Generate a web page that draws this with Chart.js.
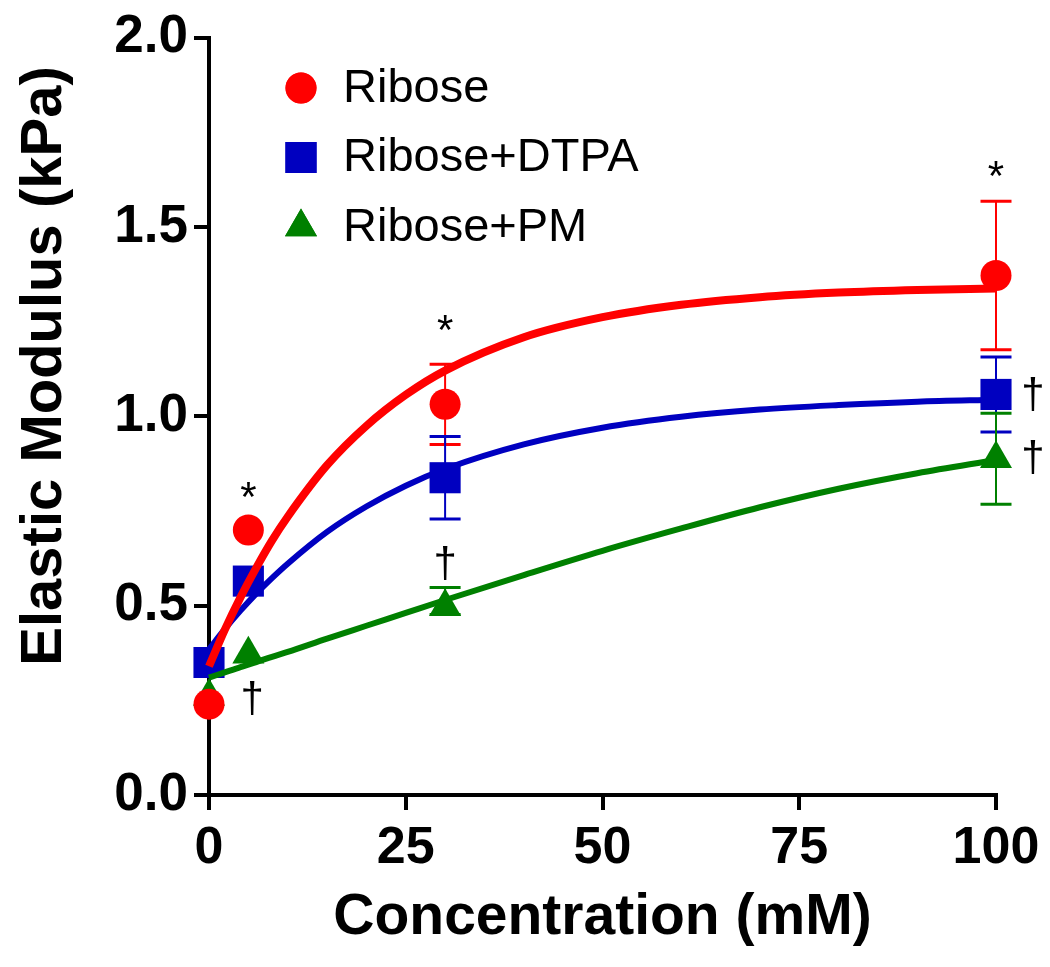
<!DOCTYPE html>
<html><head><meta charset="utf-8">
<script src="https://cdn.jsdelivr.net/npm/chart.js@4.4.1/dist/chart.umd.min.js"></script>
<style>html,body{margin:0;padding:0;background:#fff}#wrap{width:1050px;height:967px;position:relative}</style>
</head><body><div id="wrap"><canvas id="c"></canvas></div>
<script>
// ---- data ----
const concentrations = [0, 5, 30, 100];
const riboseMean = [0.24, 0.70, 1.032, 1.372];
const riboseErrUp   = [0, 0, 0.106, 0.196];
const riboseErrDown = [0, 0, 0.106, 0.196];
const dtpaMean   = [0.35, 0.565, 0.838, 1.058];
const dtpaErrUp   = [0, 0, 0.109, 0.099];
const dtpaErrDown = [0, 0, 0.109, 0.099];
const pmMean     = [0.26, 0.372, 0.497, 0.888];
const pmErrUp    = [0, 0, 0.051, 0.12];
const pmErrDown  = [0, 0, 0.02, 0.12];

const fitX      = [0, 2, 4, 6, 8, 10, 15, 20, 25, 30, 40, 50, 60, 70, 80, 90, 100];
const riboseFit = [0.34, 0.436, 0.522, 0.600, 0.672, 0.735, 0.871, 0.975, 1.057, 1.121, 1.209, 1.262, 1.295, 1.315, 1.327, 1.334, 1.338];
const dtpaFit   = [0.385, 0.438, 0.487, 0.532, 0.573, 0.611, 0.695, 0.762, 0.817, 0.861, 0.926, 0.970, 0.999, 1.018, 1.030, 1.039, 1.044];
const pmFit     = [0.31, 0.324, 0.338, 0.351, 0.365, 0.378, 0.413, 0.447, 0.481, 0.515, 0.581, 0.645, 0.704, 0.760, 0.809, 0.850, 0.885];

const xTicks = [0, 25, 50, 75, 100];
const yTicks = [0, 0.5, 1.0, 1.5, 2.0];
const seriesNames = ['Ribose', 'Ribose+DTPA', 'Ribose+PM'];

const markText = ['*', '*', '*', '\u2020', '\u2020', '\u2020', '\u2020'];
const markX    = [5, 30, 100, 30, 5.5, 104.7, 104.7];
const markY    = [0.806, 1.247, 1.654, 0.612, 0.255, 1.058, 0.892];

// ---- styles ----
const RED = '#FF0000', BLUE = '#0000C0', GREEN = '#008000';
const FONT = "'Liberation Sans', Arial, sans-serif";
Chart.defaults.font.family = FONT;
Chart.defaults.color = '#000';

function pts(xs, ys) { return xs.map((x, i) => ({x: x, y: ys[i]})); }

const markerDefs = [
  {label: seriesNames[0], color: RED,   style: 'circle',   r: 15.5, mean: riboseMean, up: riboseErrUp, down: riboseErrDown},
  {label: seriesNames[1], color: BLUE,  style: 'rect',     r: 22,   mean: dtpaMean,   up: dtpaErrUp,   down: dtpaErrDown},
  {label: seriesNames[2], color: GREEN, style: 'triangle', r: 18.5, mean: pmMean,     up: pmErrUp,     down: pmErrDown}
];

const datasets = [
  {type: 'line', label: 'fit ' + seriesNames[0], data: pts(fitX, riboseFit), borderColor: RED, borderWidth: 8, pointRadius: 0, cubicInterpolationMode: 'monotone', fill: false, order: 0, clip: false},
  {type: 'line', label: 'fit ' + seriesNames[1], data: pts(fitX, dtpaFit), borderColor: BLUE, borderWidth: 6, pointRadius: 0, cubicInterpolationMode: 'monotone', fill: false, order: 1, clip: false},
  {type: 'line', label: 'fit ' + seriesNames[2], data: pts(fitX, pmFit), borderColor: GREEN, borderWidth: 6, pointRadius: 0, cubicInterpolationMode: 'monotone', fill: false, order: 2, clip: false}
];
markerDefs.forEach((m, i) => {
  datasets.push({type: 'scatter', label: m.label, data: pts(concentrations, m.mean), showLine: false,
    pointStyle: m.style, pointRadius: m.r, pointHoverRadius: m.r, backgroundColor: m.color, borderColor: m.color,
    pointBorderWidth: 0, order: 3 + i, errUp: m.up, errDown: m.down, clip: false});
});

const errorBars = {
  id: 'errorBars',
  beforeDatasetsDraw(chart) {
    const ctx = chart.ctx, xs = chart.scales.x, ys = chart.scales.y;
    chart.data.datasets.forEach(ds => {
      if (!ds.errUp) return;
      ds.data.forEach((p, i) => {
        const u = ds.errUp[i], d = ds.errDown[i];
        if (!u && !d) return;
        const px = xs.getPixelForValue(p.x);
        const yt = ys.getPixelForValue(p.y + u), yb = ys.getPixelForValue(p.y - d);
        ctx.save();
        ctx.strokeStyle = ds.borderColor;
        ctx.lineWidth = 2;
        ctx.beginPath(); ctx.moveTo(px, yt); ctx.lineTo(px, yb); ctx.stroke();
        ctx.lineWidth = 3;
        ctx.beginPath();
        ctx.moveTo(px - 15.5, yt); ctx.lineTo(px + 15.5, yt);
        ctx.moveTo(px - 15.5, yb); ctx.lineTo(px + 15.5, yb);
        ctx.stroke();
        ctx.restore();
      });
    });
  }
};

const overlay = {
  id: 'overlay',
  afterDraw(chart) {
    const ctx = chart.ctx, xs = chart.scales.x, ys = chart.scales.y;
    ctx.save();
    // significance marks
    ctx.fillStyle = '#000';
    ctx.font = '42px ' + FONT;
    ctx.textAlign = 'center';
    ctx.textBaseline = 'alphabetic';
    markText.forEach((t, i) => {
      const cx = xs.getPixelForValue(markX[i]);
      const cy = ys.getPixelForValue(markY[i]);
      const m = ctx.measureText(t);
      const base = cy + (m.actualBoundingBoxAscent - m.actualBoundingBoxDescent) / 2;
      ctx.fillText(t, cx, base);
    });
    // legend
    const lx = 301, tx = 343, rows = [88, 157.5, 227];
    ctx.font = '47px ' + FONT;
    ctx.textAlign = 'left';
    ctx.textBaseline = 'middle';
    markerDefs.forEach((m, i) => {
      ctx.fillStyle = m.color; ctx.strokeStyle = m.color;
      Chart.helpers.drawPoint(ctx, {pointStyle: m.style, radius: m.r, rotation: 0, borderWidth: 0}, lx, rows[i]);
      ctx.fill();
      ctx.fillStyle = '#000';
      ctx.fillText(m.label, tx, rows[i] + 1);
    });
    // y-axis title
    ctx.translate(45, 366);
    ctx.rotate(-Math.PI / 2);
    ctx.font = 'bold 58px ' + FONT;
    ctx.textAlign = 'center';
    ctx.textBaseline = 'middle';
    ctx.fillStyle = '#000';
    ctx.fillText('Elastic Modulus (kPa)', 0, 0);
    ctx.restore();
  }
};

new Chart(document.getElementById('c'), {
  type: 'scatter',
  data: {datasets: datasets},
  options: {
    responsive: true, maintainAspectRatio: false, animation: false, devicePixelRatio: 1,
    layout: {padding: {left: 0, right: 54, top: 33, bottom: 0}},
    plugins: {legend: {display: false}, tooltip: {enabled: false}},
    scales: {
      x: {
        type: 'linear', min: 0, max: 100,
        afterBuildTicks: s => { s.ticks = xTicks.map(v => ({value: v})); },
        afterFit: s => { s.height = 172; },
        grid: {drawOnChartArea: false, drawTicks: true, tickLength: 15, lineWidth: 4, color: '#000'},
        border: {display: true, width: 4, color: '#000'},
        ticks: {padding: 7, font: {size: 52, weight: 'bold'}, color: '#000', maxRotation: 0, callback: v => String(v)},
        title: {display: true, text: 'Concentration (mM)', font: {size: 57, weight: 'bold'}, color: '#000', padding: {top: 0, bottom: 15}}
      },
      y: {
        type: 'linear', min: 0, max: 2,
        afterBuildTicks: s => { s.ticks = yTicks.map(v => ({value: v})); },
        afterFit: s => { s.width = 209; },
        grid: {drawOnChartArea: false, drawTicks: true, tickLength: 15, lineWidth: 4, color: '#000'},
        border: {display: true, width: 4, color: '#000'},
        ticks: {padding: 6, font: {size: 53, weight: 'bold'}, color: '#000', callback: v => Number(v).toFixed(1)}
      }
    }
  },
  plugins: [errorBars, overlay]
});
</script>
</body></html>
